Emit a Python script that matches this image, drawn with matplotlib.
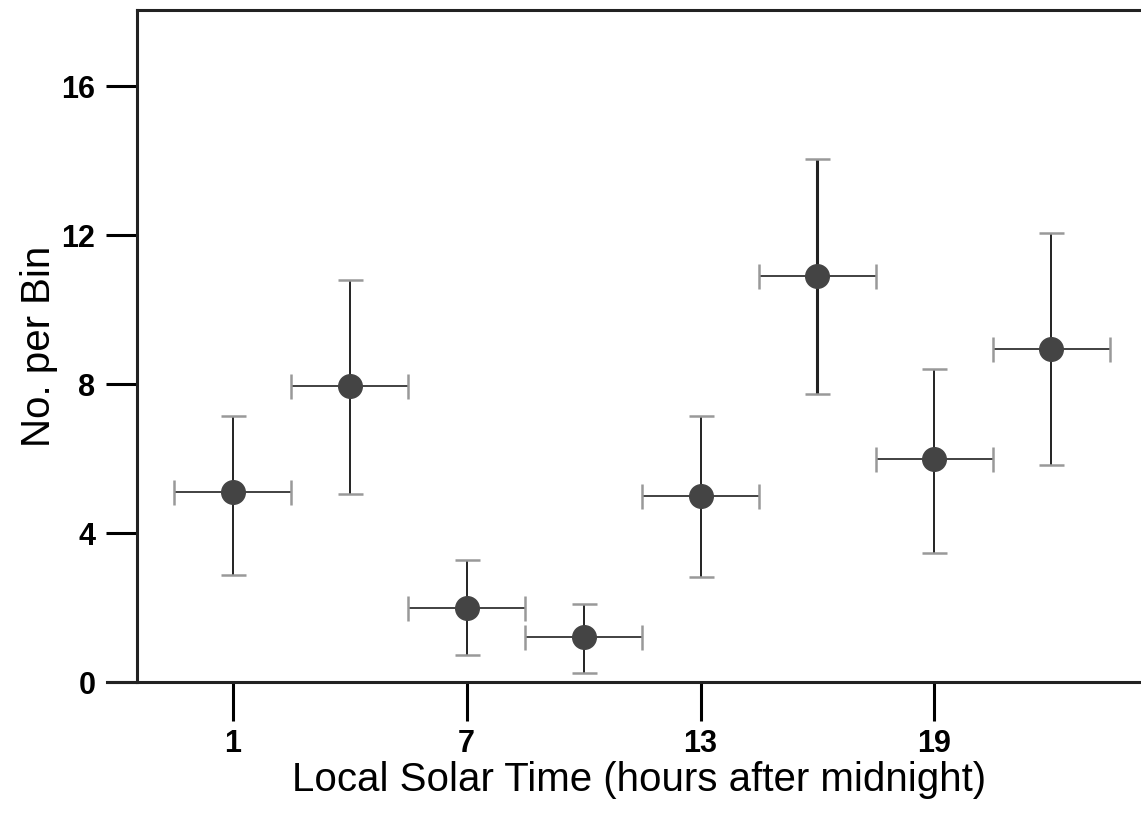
import numpy as np
import matplotlib.pyplot as plt

plt.rcParams['font.family'] = ['Liberation Sans', 'DejaVu Sans']

# Local solar time bins (hours after midnight) and counts per bin
hours = [1, 4, 7, 10, 13, 16, 19, 22]
counts = [5.1, 7.95, 2.0, 1.2, 5.0, 10.9, 6.0, 8.95]
err_low = [2.87, 5.05, 0.72, 0.25, 2.82, 7.73, 3.47, 5.83]
err_high = [7.15, 10.8, 3.28, 2.1, 7.15, 14.05, 8.4, 12.05]
bin_half = [1.5] * 8
xticks = [1, 7, 13, 19]
yticks = [0, 4, 8, 12, 16]

fig = plt.figure(figsize=(11.41, 8.14), dpi=100)
ax = fig.add_axes([0.12, 0.162, 0.88, 0.826])

for i in range(len(hours)):
    lw = 2.2 if i == 5 else 1.4
    ax.errorbar(hours[i], counts[i],
                yerr=[[counts[i] - err_low[i]], [err_high[i] - counts[i]]],
                fmt='none', ecolor='#222222', elinewidth=lw,
                capsize=0)
    ax.errorbar(hours[i], counts[i], xerr=bin_half[i],
                fmt='none', ecolor='#333333', elinewidth=1.3, capsize=0)
    # caps in grey
    ax.plot([hours[i], hours[i]], [err_low[i], err_high[i]], ls='none',
            marker='_', ms=18, mew=1.8, color='#999999')
    ax.plot([hours[i] - bin_half[i], hours[i] + bin_half[i]],
            [counts[i], counts[i]], ls='none',
            marker='|', ms=18, mew=1.8, color='#999999')

ax.plot(hours, counts, 'o', ms=17, color='#444444', zorder=5)

ax.set_xlim(-1.46, 24.3)
ax.set_ylim(0, 18.05)
ax.set_xticks(xticks)
ax.set_yticks(yticks)
ax.tick_params(direction='out', length=22, width=2.2, pad=8)
ax.tick_params(axis='x', length=28, pad=6)
for lab in ax.get_xticklabels() + ax.get_yticklabels():
    lab.set_fontsize(22)
    lab.set_fontweight('bold')

for s in ['left', 'bottom', 'top']:
    ax.spines[s].set_linewidth(2.2)
    ax.spines[s].set_color('#222222')
ax.spines['right'].set_visible(False)
# bottom axis line runs past the left axis
ax.plot([-0.03, 0], [0, 0], transform=ax.transAxes, clip_on=False,
        color='#222222', lw=2.2)

ax.set_xlabel('Local Solar Time (hours after midnight)', fontsize=29,
              labelpad=1)
ax.set_ylabel('No. per Bin', fontsize=29, labelpad=2)

fig.savefig('out.png', dpi=100)
